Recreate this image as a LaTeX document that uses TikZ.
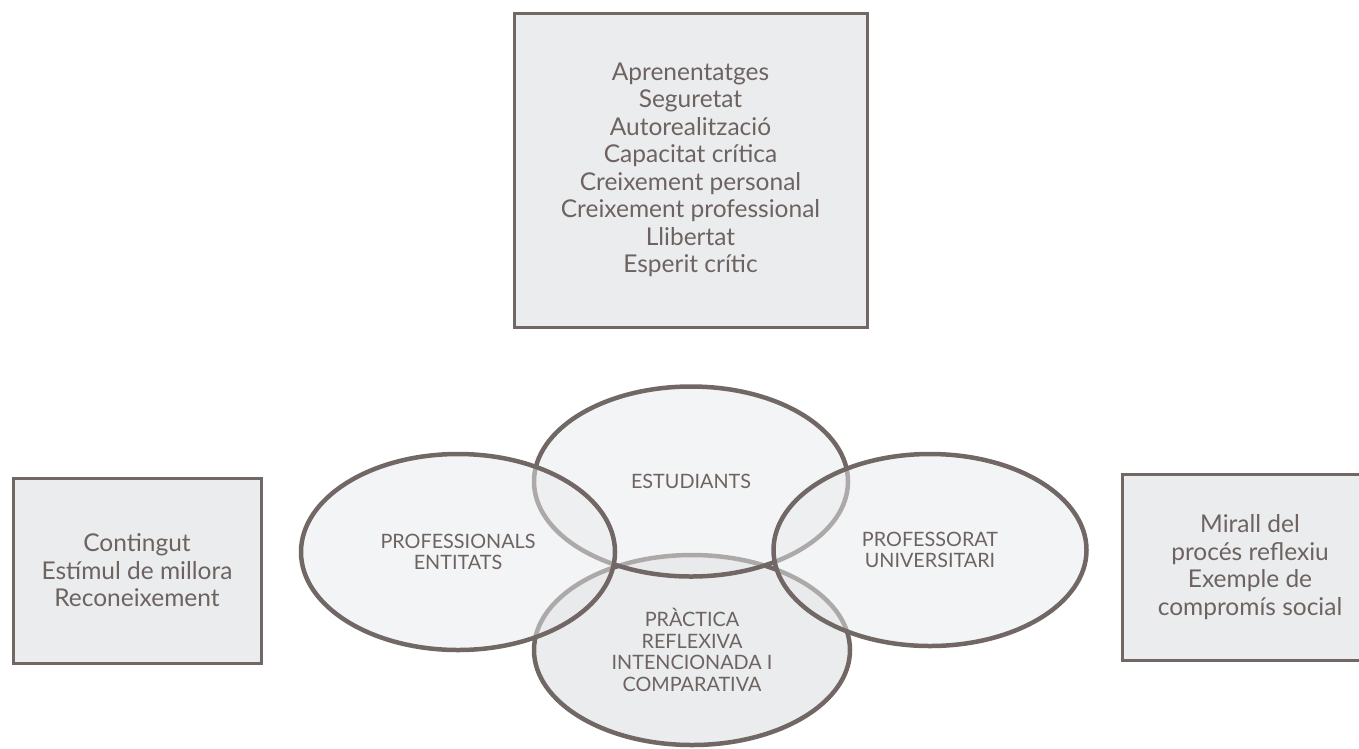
\documentclass[tikz,border=0pt]{standalone}
\usepackage{fontspec}
\setmainfont{Lato}
\usetikzlibrary{shapes.geometric}

\definecolor{linegray}{HTML}{716866}
\definecolor{textgray}{HTML}{6D6360}
\definecolor{boxfill}{HTML}{EBECEE}
\definecolor{bubblefill}{HTML}{E8EAEB}

\tikzset{
	infobox/.style={draw=linegray, line width=3pt, fill=boxfill, text=textgray,
		align=center, font=\fontsize{24.5}{27.5}\selectfont},
	bubble/.style={ellipse, draw=linegray, line width=4.5pt, fill=bubblefill,
		fill opacity=0.5, text opacity=1, text=textgray, align=center,
		font=\fontsize{19.8}{21.5}\selectfont},
}

\begin{document}
\begin{tikzpicture}[x=1pt, y=-1pt]
			%%%%% START %%%%%
			\useasboundingbox (0, 0) rectangle (1359, 748);
			
			% what the students take with them
			\node[infobox, minimum width=353, minimum height=314] (guanys) at (690.5, 170)
				{Aprenentatges\\Seguretat\\Autorealització\\Capacitat crítica\\Creixement personal\\Creixement professional\\Llibertat\\Esperit crític};
			
			% side boxes
			\node[infobox, minimum width=248, minimum height=185] (entitats) at (137, 570.5)
				{Contingut\\Estímul de millora\\Reconeixement};
			\node[infobox, minimum width=256, minimum height=186] (mirall) at (1250, 567)
				{Mirall del\\procés reflexiu\\Exemple de\\compromís social};
			
			% the four bubbles, bottom one first so the others lie over it
			\node[bubble, fill=boxfill, fill opacity=1, minimum width=316, minimum height=190] (practica) at (692, 650)
				{PRÀCTICA\\REFLEXIVA\\INTENCIONADA I\\COMPARATIVA};
			\node[bubble, minimum width=314, minimum height=190] (estudiants) at (691, 481.5) {ESTUDIANTS};
			\node[bubble, minimum width=314, minimum height=196] (professionals) at (458, 552) {PROFESSIONALS\\ENTITATS};
			\node[bubble, minimum width=313, minimum height=192] (professorat) at (930, 550) {PROFESSORAT\\UNIVERSITARI};
			
			%%%%% END %%%%%
\end{tikzpicture}
\end{document}
